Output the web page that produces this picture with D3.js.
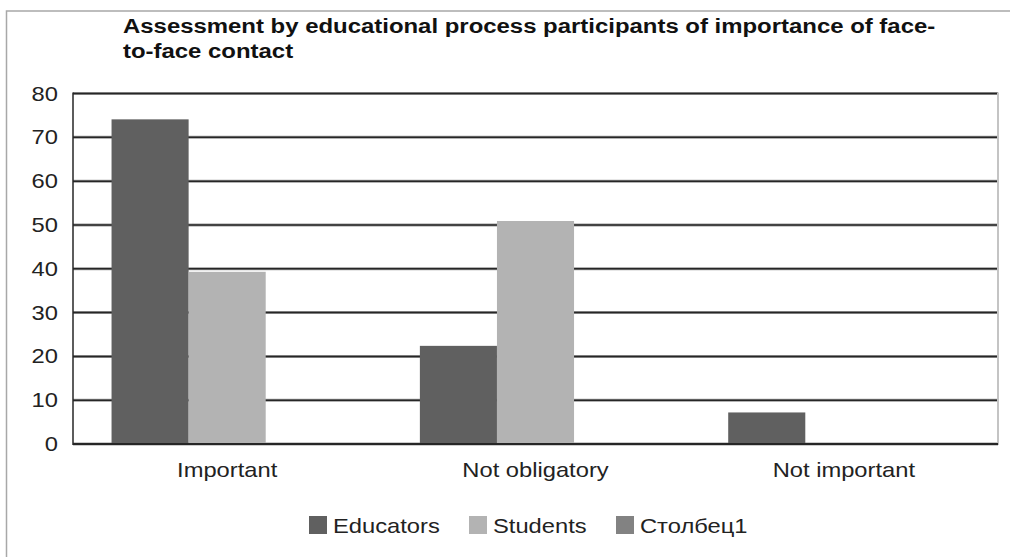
<!DOCTYPE html>
<html>
<head>
<meta charset="utf-8">
<script src="https://cdn.jsdelivr.net/npm/d3@7"></script>
<style>
  html, body { margin: 0; padding: 0; background: #fff; }
  svg { display: block; }
  text { font-family: "Liberation Sans", Arial, sans-serif; fill: #222; }
</style>
</head>
<body>
<svg id="chart" width="1010" height="557"></svg>
<script>
// Survey answers (percent of respondents)
const categories = ["Important", "Not obligatory", "Not important"];
const seriesNames = ["Educators", "Students", "Столбец1"];
const educators = [74.1, 22.4, 7.2];
const students = [39.3, 50.9, 0];
const column1 = [null, null, null];
const yTicks = [0, 10, 20, 30, 40, 50, 60, 70, 80];
const titleLines = [
  "Assessment by educational process participants of importance of face-",
  "to-face contact"
];

const seriesValues = [educators, students, column1];
const colors = ["#606060", "#b3b3b3", "#828282"];

const W = 1010, H = 557;
const margin = { left: 73, right: 12, top: 93.5, bottom: 113 };
const plotW = W - margin.left - margin.right;
const plotH = H - margin.top - margin.bottom;
const SX = 1.13; // horizontal text stretch
const FS = 21;

const svg = d3.select("#chart");

// outer frame (top and left edges)
svg.append("path")
  .attr("d", `M6.5,${H} L6.5,11 L${W},11`)
  .attr("fill", "none").attr("stroke", "#a8a8a8").attr("stroke-width", 1.5);

function stretchedText(sel, x, y, txt, anchor, sx) {
  return sel.append("text")
    .attr("transform", `translate(${x},${y}) scale(${sx || SX},1)`)
    .attr("text-anchor", anchor || "start")
    .text(txt);
}

// title
titleLines.forEach((line, i) => {
  stretchedText(svg, 123, 33 + i * 25, line, "start", 1.14)
    .attr("font-size", FS).attr("font-weight", "bold").style("fill", "#111");
});

const g = svg.append("g").attr("transform", `translate(${margin.left},${margin.top})`);

const x0 = d3.scaleBand().domain(categories).range([0, plotW]).paddingInner(0).paddingOuter(0);
const groupW = x0.bandwidth() * 0.75;
const x1 = d3.scaleBand().domain(seriesNames).range([0, groupW]).padding(0);
const y = d3.scaleLinear().domain([0, 80]).range([plotH, 0]);

// gridlines
const grid = g.append("g");
yTicks.forEach(t => {
  grid.append("line").attr("x1", 0).attr("x2", plotW).attr("y1", y(t)).attr("y2", y(t))
    .attr("stroke", "#9a9a9a").attr("stroke-width", 3);
  grid.append("line").attr("x1", 0).attr("x2", plotW).attr("y1", y(t)).attr("y2", y(t))
    .attr("stroke", "#262626").attr("stroke-width", 1.5);
});

// right border of plot area
g.append("line").attr("x1", plotW).attr("x2", plotW).attr("y1", y(80) - 1).attr("y2", y(0) + 1)
  .attr("stroke", "#c4c4c4").attr("stroke-width", 2);
// left axis line
g.append("line").attr("x1", 0).attr("x2", 0).attr("y1", y(80) - 1).attr("y2", y(0) + 1)
  .attr("stroke", "#262626").attr("stroke-width", 1.5);

// bars
const groups = g.selectAll("g.cat").data(categories).join("g")
  .attr("class", "cat")
  .attr("transform", d => `translate(${x0(d) + (x0.bandwidth() - groupW) / 2},0)`);

groups.selectAll("rect")
  .data((c, ci) => seriesNames.map((s, si) => ({ s, si, v: seriesValues[si][ci] })))
  .join("rect")
  .filter(d => d.v != null && d.v > 0)
  .attr("x", d => x1(d.s))
  .attr("width", x1.bandwidth())
  .attr("y", d => y(d.v))
  .attr("height", d => y(0) - y(d.v))
  .attr("fill", d => colors[d.si]);

// baseline on top of bars
g.append("line").attr("x1", 0).attr("x2", plotW).attr("y1", y(0)).attr("y2", y(0))
  .attr("stroke", "#262626").attr("stroke-width", 2);

// y tick labels
yTicks.forEach(t => {
  stretchedText(g, -15, y(t), String(t), "end")
    .attr("font-size", FS).attr("dominant-baseline", "central");
});

// category labels
categories.forEach(c => {
  stretchedText(g, x0(c) + x0.bandwidth() / 2, 477 - margin.top, c, "middle")
    .attr("font-size", FS);
});

// legend
const legendX = [309, 469, 616];
seriesNames.forEach((s, i) => {
  svg.append("rect").attr("x", legendX[i]).attr("y", 516).attr("width", 18).attr("height", 18)
    .attr("fill", colors[i]);
  stretchedText(svg, legendX[i] + 24, 533, s).attr("font-size", FS);
});
</script>
</body>
</html>
